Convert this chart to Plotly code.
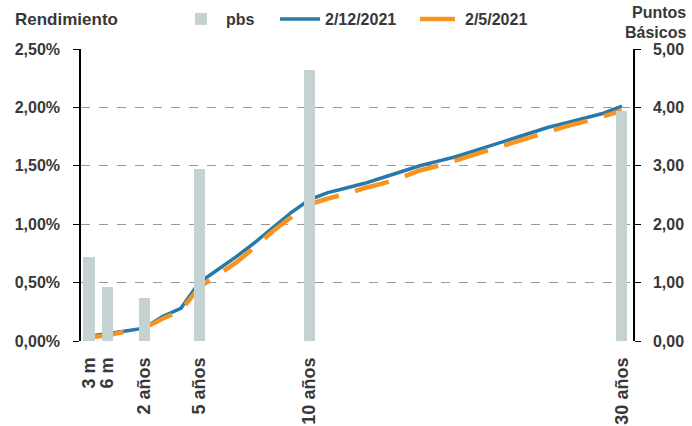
import plotly.graph_objects as go

# Maturity grid (category index positions); only some are labelled
x_idx = list(range(30))
tick_pos = [0, 1, 3, 6, 12, 29]
tick_labels = ["3 m", "6 m", "2 años", "5 años", "10 años", "30 años"]

# Yield curve 2/12/2021 (%)
yield_dec = [0.04, 0.06, 0.085, 0.11, 0.21, 0.28, 0.50, 0.61, 0.72, 0.84, 0.97, 1.10,
             1.21, 1.27, 1.31, 1.35, 1.40, 1.45, 1.50, 1.54, 1.58, 1.63, 1.68, 1.73,
             1.78, 1.83, 1.87, 1.91, 1.95, 2.01]
# Yield curve 2/5/2021 (%)
yield_may = [0.03, 0.05, 0.08, 0.11, 0.19, 0.26, 0.46, 0.56, 0.67, 0.80, 0.94, 1.06,
             1.17, 1.22, 1.26, 1.31, 1.35, 1.40, 1.46, 1.50, 1.55, 1.60, 1.64, 1.69,
             1.74, 1.79, 1.84, 1.88, 1.92, 1.97]
# Change in basis points (bars)
bar_pos = [0, 1, 3, 6, 12, 29]
bps = [1.43, 0.93, 0.73, 2.94, 4.64, 3.93]

FONT = "Liberation Sans, Arial, sans-serif"
TXT = "#383838"
YTICKF = dict(size=16, family=FONT, color=TXT, weight="bold")
XTICKF = dict(size=18, family=FONT, color=TXT, weight="bold")
LEGF = dict(size=16, family=FONT, color=TXT, weight="bold")

# body margin is removed below; target plot area in page px: x 81..633, y 49..341
OFF = 0
PL, PR, PT, PB = 81, 633, 49, 341
W, H = 692, 426
pw, ph = PR - PL, PB - PT


def px(x):
    return (x - PL) / pw


def py(y):
    return (PB - y) / ph


fig = go.Figure()
fig.add_trace(go.Bar(x=bar_pos, y=bps, name="pbs", yaxis="y2", legend="legend",
                     marker=dict(color="#C5D2D2", line=dict(width=0)), width=0.6))
fig.add_trace(go.Scatter(x=x_idx, y=[v / 100 for v in yield_dec], name="2/12/2021",
                         mode="lines", legend="legend2",
                         line=dict(color="#2679A8", width=3.5)))
fig.add_trace(go.Scatter(x=x_idx, y=[v / 100 for v in yield_may], name="2/5/2021",
                         mode="lines", legend="legend3",
                         line=dict(color="#F7931E", width=4.5, dash="35px,17px")))

leg_common = dict(orientation="h", xref="paper", yref="paper", xanchor="left",
                  yanchor="middle", font=LEGF, itemwidth=40, bgcolor="rgba(0,0,0,0)")

fig.update_layout(
    width=W, height=H,
    margin=dict(l=PL - OFF, r=W - (PR - OFF), t=PT - OFF, b=H - (PB - OFF), autoexpand=False),
    paper_bgcolor="white", plot_bgcolor="white",
    separators=",.",
    font=dict(family=FONT, color=TXT, size=15),
    showlegend=True,
    legend=dict(x=px(176), y=py(19), **leg_common),
    legend2=dict(x=px(275), y=py(19), **leg_common),
    legend3=dict(x=px(415), y=py(19), **leg_common),
    xaxis=dict(range=[-0.435, 29.6], tickmode="array", tickvals=tick_pos,
               ticktext=tick_labels, tickangle=-90, automargin=False,
               showgrid=False, zeroline=False, showline=False, ticks="",
               ticklabelstandoff=12, tickfont=XTICKF),
    yaxis=dict(range=[0, 0.025], tickvals=[0, 0.005, 0.01, 0.015, 0.02, 0.025],
               tickformat=".2%", showgrid=True, gridcolor="#999999", griddash="dash",
               gridwidth=1, zeroline=False, showline=True, linecolor="black", linewidth=1.5,
               ticks="outside", ticklen=6, tickcolor="black", automargin=False,
               ticklabelstandoff=10, tickfont=YTICKF),
    yaxis2=dict(range=[0, 5], tickvals=[0, 1, 2, 3, 4, 5], tickformat=".2f",
                overlaying="y", side="right", showgrid=False, zeroline=False,
                showline=True, linecolor="black", linewidth=1.5, automargin=False,
                ticks="outside", ticklen=6, tickcolor="black",
                ticklabelstandoff=9, tickfont=YTICKF),
    bargap=0,
)

fig.add_annotation(text="<b>Rendimiento</b>", xref="paper", yref="paper",
                   x=px(13), y=py(19), xanchor="left", yanchor="middle",
                   showarrow=False, font=dict(size=17, family=FONT, color=TXT))
for txt, yc in [("Puntos", 13), ("Básicos", 32)]:
    fig.add_annotation(text="<b>%s</b>" % txt, xref="paper", yref="paper",
                       x=px(687), y=py(yc), xanchor="right", yanchor="middle",
                       align="right", showarrow=False, borderpad=0,
                       font=dict(size=16, family=FONT, color=TXT))

fig.write_html("out.html", config={"displayModeBar": False},
               post_script="document.body.style.margin='0px';")
